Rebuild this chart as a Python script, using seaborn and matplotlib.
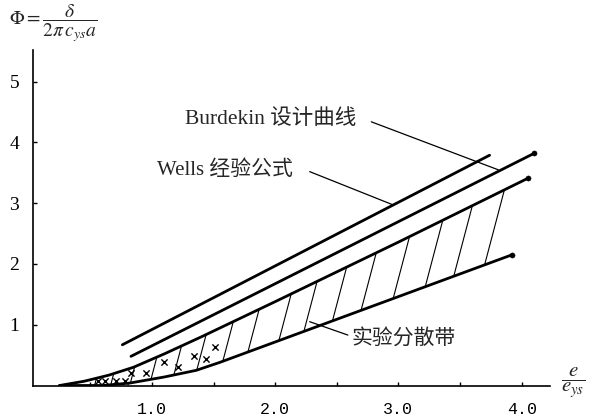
import numpy as np
import pandas as pd
import matplotlib
matplotlib.use("Agg")
import matplotlib.pyplot as plt
import seaborn as sns

# Design curves (e/e_ys, Phi)
burdekin_x = [0.76, 3.74]
burdekin_y = [0.67, 3.79]
wells_x = [0.83, 4.10]
wells_y = [0.48, 3.82]

# Experimental scatter band: upper and lower boundaries
band_upper_x = [0.25, 0.45, 0.65, 0.85, 1.10, 1.40, 2.00, 3.00, 4.05]
band_upper_y = [0.00, 0.07, 0.17, 0.30, 0.52, 0.80, 1.38, 2.36, 3.41]
band_lower_x = [0.25, 0.60, 0.82, 1.10, 1.36, 1.55, 3.92]
band_lower_y = [0.00, 0.00, 0.04, 0.14, 0.25, 0.38, 2.15]

# Test points
test_x = [0.56, 0.62, 0.71, 0.78, 0.83, 0.95, 1.10, 1.21, 1.34, 1.44, 1.51]
test_y = [0.07, 0.08, 0.07, 0.08, 0.21, 0.21, 0.38, 0.30, 0.48, 0.43, 0.64]

# Positions of the hatch strokes along the upper boundary
hatch_x = [0.55, 0.69, 0.86, 1.04, 1.24, 1.44, 1.66, 1.87, 2.13, 2.34,
           2.58, 2.82, 3.09, 3.36, 3.60, 3.86]

x_ticks = [1.0, 2.0, 3.0, 4.0]
x_tick_labels = ["1.0", "2.0", "3.0", "4.0"]
y_ticks = [1, 2, 3, 4, 5]

sns.set_theme(style="ticks")
plt.rcParams["mathtext.fontset"] = "stix"

fig = plt.figure(figsize=(5.89, 4.19), dpi=100)
ax = fig.add_axes([33 / 589, 33.5 / 419, 517 / 589, 336 / 419])

lw_main = 2.0
lines = pd.concat([
    pd.DataFrame({"x": burdekin_x, "y": burdekin_y, "curve": "burdekin"}),
    pd.DataFrame({"x": wells_x, "y": wells_y, "curve": "wells"}),
    pd.DataFrame({"x": band_upper_x, "y": band_upper_y, "curve": "upper"}),
    pd.DataFrame({"x": band_lower_x, "y": band_lower_y, "curve": "lower"}),
])
sns.lineplot(data=lines, x="x", y="y", units="curve", estimator=None,
             sort=False, color="black", linewidth=lw_main, ax=ax, legend=False)

# End dots
ends = pd.DataFrame({"x": [wells_x[-1], band_upper_x[-1], band_lower_x[-1]],
                     "y": [wells_y[-1], band_upper_y[-1], band_lower_y[-1]]})
sns.scatterplot(data=ends, x="x", y="y", color="black", s=14,
                edgecolor="black", ax=ax, legend=False, zorder=5)

# Hatching between the band boundaries
k = 0.13
for xt in hatch_x:
    yt = np.interp(xt, band_upper_x, band_upper_y)
    xb = xt
    for _ in range(6):
        yb = np.interp(xb, band_lower_x, band_lower_y)
        xb = xt - k * (yt - yb)
    yb = np.interp(xb, band_lower_x, band_lower_y)
    ax.plot([xb, xt], [yb, yt], color="black", linewidth=0.8)

sns.scatterplot(x=test_x, y=test_y, marker="x", color="black", s=20,
                linewidth=1.0, ax=ax, legend=False)

# Leader lines and labels
lead_kw = dict(color="black", linewidth=0.9)
ax.plot([2.78, 3.81], [4.34, 3.55], **lead_kw)
ax.plot([2.28, 2.96], [3.52, 2.97], **lead_kw)
ax.plot([2.59, 2.28], [0.83, 1.05], **lead_kw)

fam = ["Liberation Serif", "Noto Sans CJK SC"]
ax.text(1.27, 4.39, "Burdekin 设计曲线", family=fam, fontsize=15.5,
        ha="left", va="center")
ax.text(1.04, 3.55, "Wells 经验公式", family=fam, fontsize=15,
        ha="left", va="center")
ax.text(2.62, 0.77, "实验分散带", family=fam, fontsize=15,
        ha="left", va="center")

ax.set_xlim(0.035, 4.23)
ax.set_ylim(0, 5.53)
sns.despine(ax=ax)
for s in ("left", "bottom"):
    ax.spines[s].set_linewidth(1.2)
    ax.spines[s].set_color("black")

ax.set_xticks(x_ticks)
ax.set_xticklabels(x_tick_labels, family="Liberation Mono", fontsize=12)
ax.set_xticks([0.5, 1.5, 2.5, 3.5], minor=True)
ax.set_yticks(y_ticks)
ax.set_yticklabels([str(v) for v in y_ticks], family="Liberation Serif",
                   fontsize=14)
ax.tick_params(axis="both", which="both", direction="in", length=3,
               width=1, color="black", labelcolor="black")
ax.tick_params(axis="x", pad=12)
ax.tick_params(axis="y", pad=10)
ax.set_xlabel("")
ax.set_ylabel("")

fig.text(9 / 589, 1 - 23 / 419, r"$\Phi = \dfrac{\delta}{2\pi\, c_{ys}a}$",
         fontsize=14, ha="left", va="center")
fig.text(573 / 589, 1 - 383 / 419, r"$\dfrac{e}{e_{ys}}$",
         fontsize=15, ha="center", va="center")

fig.savefig("out.png", dpi=100, facecolor="white")
